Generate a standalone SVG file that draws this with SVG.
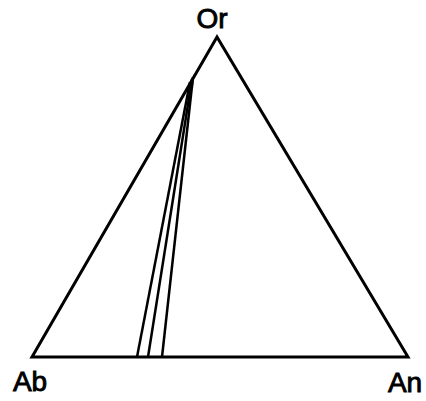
<svg xmlns="http://www.w3.org/2000/svg" width="426" height="401" viewBox="0 0 426 401">
<style>
.edge{stroke:#000;stroke-width:3;fill:none;stroke-linejoin:miter}
.tie{stroke:#000;stroke-width:2.5;fill:none}
.lbl{font-family:"Liberation Sans",Arial,sans-serif;font-size:28px;fill:#000;stroke:#000;stroke-width:0.9}
</style>
<rect width="426" height="401" fill="#fff"/>
<g id="triangle">
<polygon class="edge" points="217,37 32,357 408,357"/>
</g>
<g id="connectors">
<line class="tie" x1="137" y1="357" x2="190" y2="82"/>
<line class="tie" x1="148" y1="357" x2="192" y2="79"/>
<line class="tie" x1="162" y1="357" x2="193" y2="77"/>
<polygon points="186,90 194,74 193,88" fill="#000"/>
</g>
<g id="Or"><text class="lbl" x="212" y="28" text-anchor="middle">Or</text></g>
<g id="Ab"><text class="lbl" x="30" y="391" text-anchor="middle">Ab</text></g>
<g id="An"><text class="lbl" x="405" y="392" text-anchor="middle">An</text></g>
</svg>
